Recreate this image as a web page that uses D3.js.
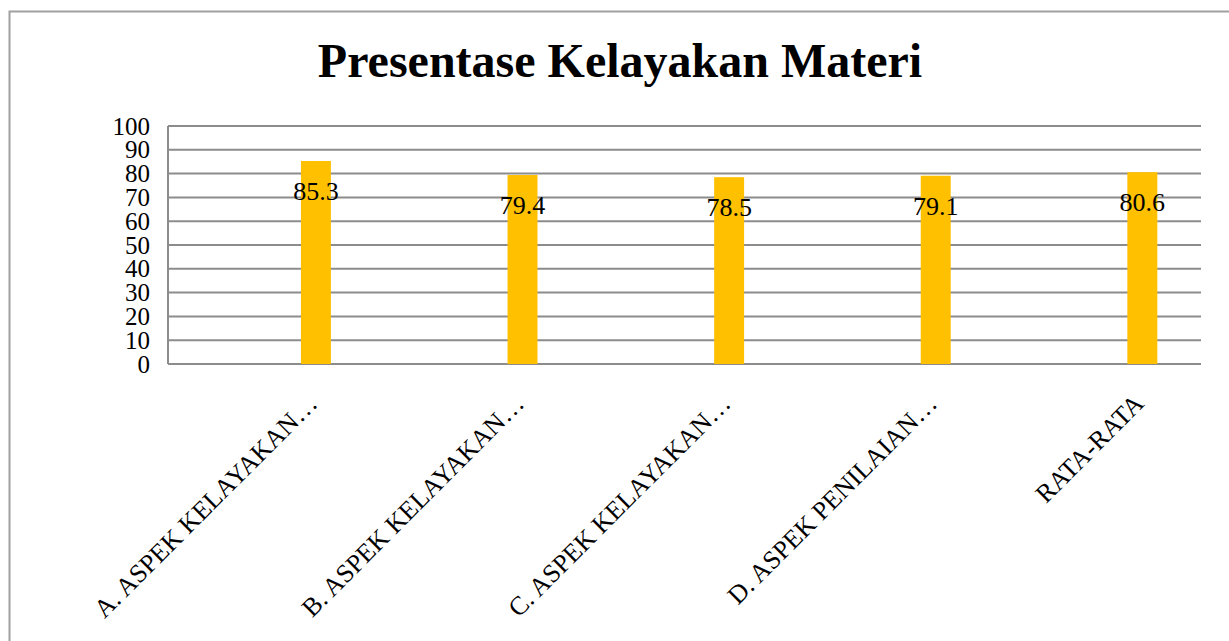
<!DOCTYPE html>
<html>
<head>
<meta charset="utf-8">
<script src="https://cdn.jsdelivr.net/npm/d3@7"></script>
<style>
  body { margin: 0; background: #fff; }
  svg { display: block; }
</style>
</head>
<body>
<div id="chart"></div>
<script>
const categories = [
  "A. ASPEK KELAYAKAN…",
  "B. ASPEK KELAYAKAN…",
  "C. ASPEK KELAYAKAN…",
  "D. ASPEK PENILAIAN…",
  "RATA-RATA",
];
const values = [85.3, 79.4, 78.5, 79.1, 80.6];
const yTicks = [0, 10, 20, 30, 40, 50, 60, 70, 80, 90, 100];
const title = "Presentase Kelayakan Materi";

const width = 1229;
const height = 641;
const margin = { top: 126, right: 28, bottom: 277, left: 168 };
const font = "'Liberation Serif', 'Times New Roman', serif";
const gridColor = "#8c8c8c";

const svg = d3.select("#chart").append("svg")
  .attr("width", width)
  .attr("height", height);

// chart frame (runs off the right and bottom edges)
svg.append("rect")
  .attr("x", 9.5).attr("y", 11.5)
  .attr("width", width + 20).attr("height", height + 20)
  .attr("fill", "none")
  .attr("stroke", "#a0a0a0")
  .attr("stroke-width", 2);

svg.append("text")
  .attr("x", 620)
  .attr("y", 77)
  .attr("text-anchor", "middle")
  .attr("font-family", font)
  .attr("font-weight", "bold")
  .attr("font-size", "48px")
  .attr("fill", "#000")
  .text(title);

const x = d3.scaleBand()
  .domain(categories)
  .range([margin.left, width - margin.right])
  .padding(0);

const y = d3.scaleLinear()
  .domain([0, 100])
  .range([height - margin.bottom, margin.top]);

// bars sit right of the band centre, as with an empty companion series
const barCenter = (d) => x(d) + x.bandwidth() * 0.716;
const barWidth = x.bandwidth() * 0.145;

// gridlines
svg.append("g")
  .selectAll("line")
  .data(yTicks)
  .join("line")
  .attr("x1", margin.left)
  .attr("x2", width - margin.right)
  .attr("y1", (d) => y(d))
  .attr("y2", (d) => y(d))
  .attr("stroke", gridColor)
  .attr("stroke-width", 2);

// left axis line
svg.append("line")
  .attr("x1", margin.left).attr("x2", margin.left)
  .attr("y1", y(100)).attr("y2", y(0))
  .attr("stroke", gridColor)
  .attr("stroke-width", 2);

// y labels
svg.append("g")
  .attr("transform", `translate(${margin.left},0)`)
  .call(d3.axisLeft(y).tickValues(yTicks).tickSize(0).tickPadding(18))
  .call((g) => g.select(".domain").remove())
  .call((g) => g.selectAll("text")
    .attr("font-family", font)
    .attr("font-size", "25px")
    .attr("fill", "#000"));

// bars
svg.append("g")
  .selectAll("rect")
  .data(categories)
  .join("rect")
  .attr("x", (d) => barCenter(d) - barWidth / 2)
  .attr("width", barWidth)
  .attr("y", (d, i) => y(values[i]))
  .attr("height", (d, i) => y(0) - y(values[i]))
  .attr("fill", "#ffc000");

// value labels
svg.append("g")
  .selectAll("text")
  .data(categories)
  .join("text")
  .attr("x", barCenter)
  .attr("y", (d, i) => y(values[i]) + 39)
  .attr("text-anchor", "middle")
  .attr("font-family", font)
  .attr("font-size", "26px")
  .attr("fill", "#000")
  .text((d, i) => values[i]);

// category labels, rotated
svg.append("g")
  .selectAll("text")
  .data(categories)
  .join("text")
  .attr("transform", (d) => `translate(${barCenter(d) + 3},${y(0) + 41}) rotate(-45)`)
  .attr("text-anchor", "end")
  .attr("font-family", font)
  .attr("font-size", "26px")
  .attr("fill", "#000")
  .text((d) => d);
</script>
</body>
</html>
